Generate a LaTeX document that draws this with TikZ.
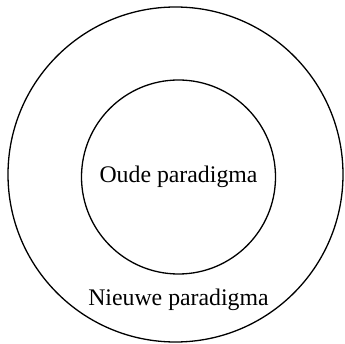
\documentclass[tikz,border=0pt]{standalone}
\usepackage{fontspec}
\setmainfont{Liberation Serif}
\usepackage{tikz}
\usetikzlibrary{positioning}
\tikzset{
	x=1pt, y=-1pt,
	ring/.style = {circle, draw=black, line width=1.3pt, inner sep=0pt},
	tekst/.style = {inner sep=0pt, font=\fontsize{23.8}{28}\selectfont},
}

\begin{document}
\begin{tikzpicture}
        \useasboundingbox (0,0) rectangle (345,344);
                \node (nieuw) [ring, minimum size=335pt] at (175.5,174.5) {};
                \node (oud) [ring, minimum size=194pt, tekst] at (178.5,177) {Oude paradigma};
                \node (nieuwtekst) [tekst, below = 14.5pt of oud] {Nieuwe paradigma};
        \end{tikzpicture}
\end{document}
